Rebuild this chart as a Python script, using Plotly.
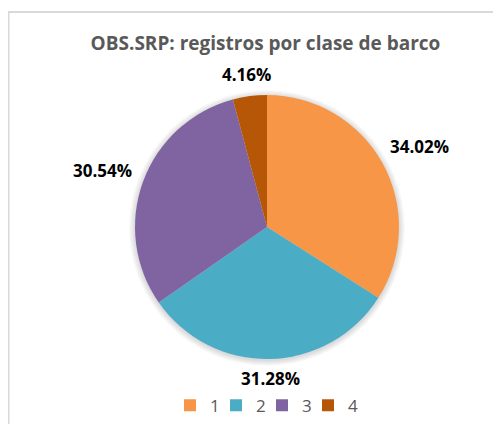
import math
import plotly.graph_objects as go

labels = ["1", "2", "3", "4"]
values = [34.02, 31.28, 30.54, 4.16]
colors = ["#F79646", "#4BACC6", "#8064A2", "#B65708"]
title_text = "OBS.SRP: registros por clase de barco"

# page offset (browser body margin) compensation
OFF = 8
W, H = 501 - OFF, 424 - OFF
cx, cy, r = 267 - OFF, 227 - OFF, 132
label_size = 17
gap = 13

fig = go.Figure(go.Pie(
    labels=labels,
    values=values,
    sort=False,
    direction="clockwise",
    rotation=0,
    marker=dict(colors=colors, line=dict(width=0)),
    textinfo="none",
    domain=dict(x=[(cx - r) / W, (cx + r) / W], y=[1 - (cy + r) / H, 1 - (cy - r) / H]),
    hoverinfo="label+percent",
))

# data labels placed outside the slices, derived from the slice mid-angles
total = sum(values)
annotations = []
cum = 0.0
for v in values:
    mid = (cum + v / 2) / total * 2 * math.pi
    cum += v
    txt = f"{v / total * 100:.2f}%"
    hw = 0.5 * len(txt) * 0.58 * label_size
    hh = 0.36 * label_size
    sx, cdir = math.sin(mid), math.cos(mid)
    ext = abs(hw * sx) + abs(hh * cdir)
    d = r + gap + ext
    px = cx + d * sx
    py = cy - d * cdir + 4 * abs(sx)
    annotations.append(dict(
        x=px / W, y=1 - py / H, xref="paper", yref="paper",
        text="<b>" + txt + "</b>", showarrow=False,
        xanchor="center", yanchor="middle",
        font=dict(family="Open Sans", size=label_size, color="#000000"),
    ))

# soft shadow around the pie
shapes = []
for k in range(1, 7):
    rr = r + k
    shapes.append(dict(type="circle", xref="paper", yref="paper",
                       x0=(cx - rr) / W, x1=(cx + rr) / W,
                       y0=1 - (cy + rr + 1) / H, y1=1 - (cy - rr + 1) / H,
                       line=dict(width=0), fillcolor="rgba(0,0,0,0.025)", layer="below"))
# chart area border
shapes.append(dict(type="rect", xref="paper", yref="paper",
                   x0=0.5 / W, x1=1.1, y0=-0.1, y1=1 - (12 - OFF) / H,
                   line=dict(color="#D9D9D9", width=2), fillcolor="rgba(0,0,0,0)", layer="below"))

fig.update_layout(
    width=W, height=H,
    margin=dict(l=0, r=0, t=0, b=0),
    paper_bgcolor="white",
    plot_bgcolor="white",
    title=dict(text="<b>" + title_text + "</b>", x=(265.5 - OFF) / W, y=1 - (43 - OFF) / H,
               xanchor="center", yanchor="middle",
               font=dict(family="Open Sans", size=19, color="#595959")),
    legend=dict(orientation="h", x=(170 - OFF) / W, xanchor="left",
                y=1 - (405 - OFF) / H, yanchor="middle",
                bgcolor="rgba(0,0,0,0)",
                font=dict(family="Open Sans", size=17, color="#595959"),
                title=dict(text="\u00a0" * 900, side="top",
                           font=dict(size=1, color="rgba(0,0,0,0)")),
                itemwidth=30, entrywidth=1, traceorder="normal"),
    showlegend=True,
    annotations=annotations,
    shapes=shapes,
)

fig.write_html("out.html")
